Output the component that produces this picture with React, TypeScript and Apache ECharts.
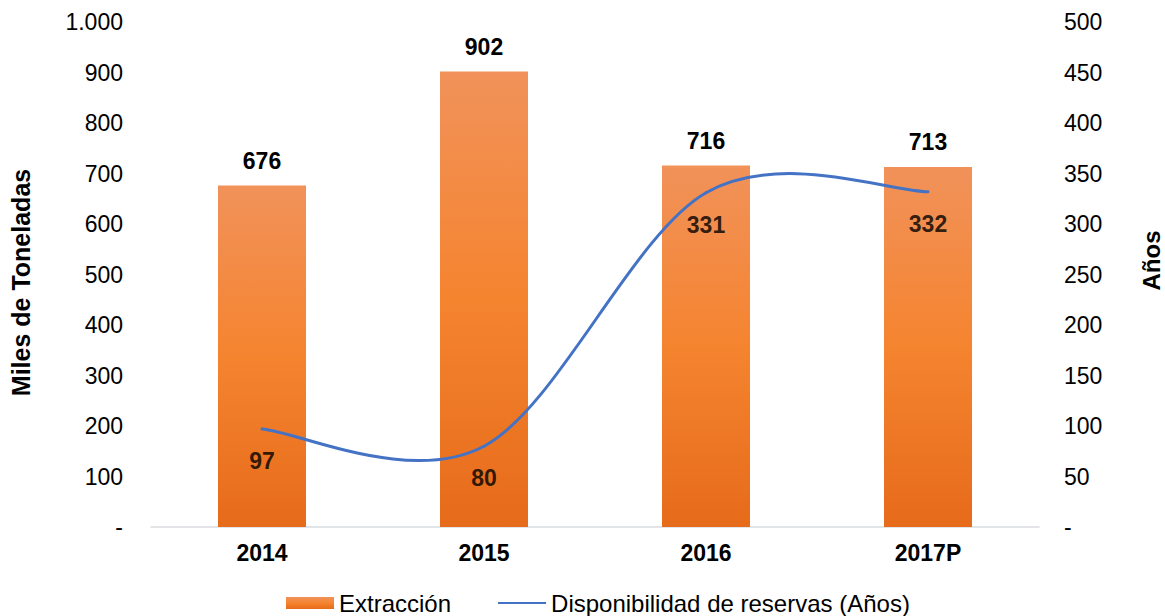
import React, { useEffect, useRef } from "react";
import * as echarts from "echarts";

const categories = ["2014", "2015", "2016", "2017P"];
const extraccion = [676, 902, 716, 713];
const disponibilidad = [97, 80, 331, 332];
const leftTicks = { min: 0, max: 1000, interval: 100 };
const rightTicks = { min: 0, max: 500, interval: 50 };

const FONT = "'Liberation Sans', Arial, sans-serif";
const LINE_NAME = "Disponibilidad de reservas (Años)";
const BAR_NAME = "Extracción";
const BLUE = "#4472C4";

function fmtThousands(v: number): string {
  if (v === 0) return "-";
  return String(v).replace(/\B(?=(\d{3})+(?!\d))/g, ".");
}

export default function App() {
  const ref = useRef<HTMLDivElement>(null);
  useEffect(() => {
    if (!ref.current) return;
    const chart = echarts.init(ref.current, null, { renderer: "svg" });
    const barGradient = new echarts.graphic.LinearGradient(0, 0, 0, 1, [
      { offset: 0, color: "#F1925A" },
      { offset: 0.5, color: "#F5842F" },
      { offset: 1, color: "#E66B1A" },
    ]);
    const n = disponibilidad.length;
    chart.setOption({
      animation: false,
      textStyle: { fontFamily: FONT },
      grid: {
        left: 151,
        right: 126,
        top: 22,
        bottom: 89,
        containLabel: false,
        outerBoundsMode: "none",
      },
      legend: {
        top: 591,
        left: 286,
        padding: 0,
        itemWidth: 48,
        itemHeight: 12,
        itemGap: 46,
        textStyle: { fontSize: 24, color: "#000", fontFamily: FONT },
        data: [
          { name: BAR_NAME, icon: "rect" },
          { name: LINE_NAME, itemStyle: { opacity: 0 } },
        ],
      },
      xAxis: {
        type: "category",
        data: categories,
        axisLine: { lineStyle: { color: "#D9DCE1", width: 1.5 } },
        axisTick: { show: false },
        axisLabel: {
          fontSize: 23,
          fontWeight: "bold",
          color: "#000",
          margin: 14,
          fontFamily: FONT,
        },
      },
      yAxis: [
        {
          type: "value",
          ...leftTicks,
          name: "Miles de Toneladas",
          nameLocation: "middle",
          nameGap: 118,
          nameTextStyle: {
            fontSize: 25,
            fontWeight: "bold",
            color: "#000",
            fontFamily: FONT,
            padding: [0, 16, 0, 0],
          },
          splitLine: { show: false },
          axisLine: { show: false },
          axisTick: { show: false },
          axisLabel: {
            fontSize: 23,
            color: "#000",
            margin: 28,
            fontFamily: FONT,
            formatter: (v: number) => fmtThousands(v),
          },
        },
        {
          type: "value",
          ...rightTicks,
          name: "Años",
          nameLocation: "middle",
          nameGap: 100,
          nameTextStyle: {
            fontSize: 24,
            fontWeight: "bold",
            color: "#000",
            fontFamily: FONT,
            padding: [0, 0, 0, 28],
          },
          splitLine: { show: false },
          axisLine: { show: false },
          axisTick: { show: false },
          axisLabel: {
            fontSize: 23,
            color: "#000",
            margin: 25,
            fontFamily: FONT,
            formatter: (v: number) => (v === 0 ? "-" : String(v)),
          },
        },
      ],
      series: [
        {
          name: BAR_NAME,
          type: "bar",
          data: extraccion,
          barWidth: 88,
          itemStyle: { color: barGradient },
          label: {
            show: true,
            position: "top",
            distance: 13,
            fontSize: 23,
            fontWeight: "bold",
            color: "#000",
            fontFamily: FONT,
          },
        },
        {
          // legend entry for the line
          name: LINE_NAME,
          type: "line",
          yAxisIndex: 1,
          data: [],
          symbol: "none",
          lineStyle: { color: BLUE, width: 3 },
          itemStyle: { color: BLUE },
        },
        {
          // smooth (Catmull-Rom) curve through the values
          name: "curve",
          type: "custom",
          yAxisIndex: 1,
          data: disponibilidad.map((v, i) => [i, v]),
          encode: { x: 0, y: 1 },
          silent: true,
          renderItem: (params: any, api: any) => {
            const i = params.dataIndex;
            if (i >= n - 1) return null;
            const p = (k: number) => api.coord([k, disponibilidad[k]]);
            const P0 = p(Math.max(i - 1, 0));
            const P1 = p(i);
            const P2 = p(i + 1);
            const P3 = p(Math.min(i + 2, n - 1));
            return {
              type: "bezierCurve",
              shape: {
                x1: P1[0],
                y1: P1[1],
                x2: P2[0],
                y2: P2[1],
                cpx1: P1[0] + (P2[0] - P0[0]) / 6,
                cpy1: P1[1] + (P2[1] - P0[1]) / 6,
                cpx2: P2[0] - (P3[0] - P1[0]) / 6,
                cpy2: P2[1] - (P3[1] - P1[1]) / 6,
              },
              style: { stroke: BLUE, lineWidth: 3, fill: "none", lineCap: "round" },
            };
          },
          z: 3,
        },
        {
          // value labels for the line
          name: "labels",
          type: "scatter",
          yAxisIndex: 1,
          data: disponibilidad,
          symbolSize: 1,
          itemStyle: { color: "rgba(0,0,0,0)" },
          silent: true,
          label: {
            show: true,
            position: "bottom",
            distance: 20,
            fontSize: 23,
            fontWeight: "bold",
            color: "#000",
            fontFamily: FONT,
          },
          z: 4,
        },
      ],
    });
    return () => chart.dispose();
  }, []);
  return (
    <div
      ref={ref}
      style={{ position: "fixed", left: 0, top: 0, width: 1165, height: 616, background: "#fff" }}
    />
  );
}
